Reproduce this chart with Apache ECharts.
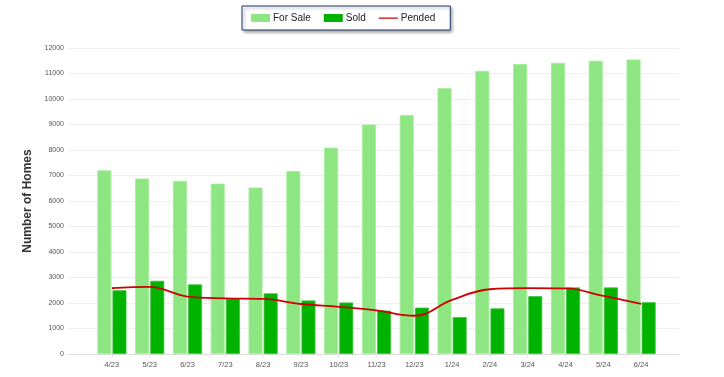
<!DOCTYPE html>
<html>
<head>
<meta charset="utf-8">
<script src="https://cdn.jsdelivr.net/npm/echarts@6/dist/echarts.min.js"></script>
<style>
    html, body { margin: 0; padding: 0; background: #fff; }
    #chart { width: 724px; height: 377px; }
</style>
</head>
<body>
<div id="chart"></div>
<script>
// data bulanan
const months = ['4/23', '5/23', '6/23', '7/23', '8/23', '9/23', '10/23', '11/23', '12/23', '1/24', '2/24', '3/24', '4/24', '5/24', '6/24'];
const forSale = [7200, 6880, 6790, 6680, 6530, 7170, 8090, 9000, 9370, 10430, 11100, 11370, 11420, 11500, 11550];
const sold = [2500, 2870, 2730, 2170, 2380, 2100, 2020, 1700, 1820, 1450, 1790, 2270, 2610, 2610, 2030];
const pended = [2580, 2630, 2250, 2180, 2160, 1960, 1850, 1710, 1500, 2120, 2540, 2580, 2570, 2280, 1970];
const yTicks = { min: 0, max: 12000, step: 1000 };

const chart = echarts.init(document.getElementById('chart'));

// ikon garis tipis untuk legenda Pended
const lineIcon = 'path://M0,0 L0.01,0 M0,3.4 L19,3.4 L19,4.8 L0,4.8 Z M19,8 L18.99,8';

const option = {
    animation: false,
    textStyle: { fontFamily: 'Liberation Sans' },
    legend: {
        left: 242,
        top: 6,
        padding: [7, 15, 7, 9],
        itemGap: 13,
        itemWidth: 19,
        itemHeight: 8,
        backgroundColor: '#fff',
        borderColor: '#1f3566',
        borderWidth: 1,
        shadowColor: 'rgba(0,0,0,0.35)',
        shadowBlur: 3,
        shadowOffsetX: 2,
        shadowOffsetY: 2,
        itemStyle: { borderWidth: 0 },
        textStyle: { fontSize: 10, color: '#222', fontFamily: 'Liberation Sans', padding: [0, 0, 0, -2] },
        data: [
            { name: 'For Sale', icon: 'rect' },
            { name: 'Sold', icon: 'rect' },
            { name: 'Pended', icon: lineIcon, itemStyle: { color: '#d00000', borderWidth: 0 } }
        ]
    },
    // grid 0 buat garis latar, grid 1 buat batang
    grid: [
        { left: 68, right: 45, top: 48, bottom: 23 },
        { left: 93, right: 64, top: 48, bottom: 23 }
    ],
    xAxis: [
        {
            gridIndex: 0, type: 'value', min: 0, max: 1,
            axisLine: { show: true, lineStyle: { color: '#dcdcdc' } },
            axisTick: { show: false }, axisLabel: { show: false }, splitLine: { show: false }
        },
        {
            gridIndex: 1, type: 'category', data: months, boundaryGap: true,
            axisLine: { show: false },
            axisTick: { show: true, alignWithLabel: true, length: 3, lineStyle: { color: '#e4e4e4' } },
            axisLabel: { fontSize: 7.5, color: '#555', margin: 7, interval: 0 }
        }
    ],
    yAxis: [
        {
            gridIndex: 0, type: 'value', min: yTicks.min, max: yTicks.max, interval: yTicks.step,
            name: 'Number of Homes', nameLocation: 'middle', nameGap: 30,
            nameTextStyle: { fontSize: 12, fontWeight: 'bold', color: '#333', fontFamily: 'Liberation Sans' },
            axisLine: { show: false }, axisTick: { show: false },
            axisLabel: { fontSize: 7, color: '#555', margin: 4, formatter: v => String(v) },
            splitLine: { lineStyle: { color: '#efefef' } }
        },
        {
            gridIndex: 1, type: 'value', min: yTicks.min, max: yTicks.max, interval: yTicks.step,
            show: false, splitLine: { show: false }
        }
    ],
    series: [
        {
            name: 'For Sale', type: 'bar', xAxisIndex: 1, yAxisIndex: 1,
            data: forSale, barWidth: 14, barGap: '8%',
            itemStyle: { color: '#8de682', borderColor: '#a6ed9c', borderWidth: 0.8 }
        },
        {
            name: 'Sold', type: 'bar', xAxisIndex: 1, yAxisIndex: 1,
            data: sold, barWidth: 14, barGap: '8%',
            itemStyle: { color: '#00b300', borderColor: '#3fc23f', borderWidth: 0.8 }
        },
        {
            name: 'Pended', type: 'line', xAxisIndex: 1, yAxisIndex: 1,
            data: pended, smooth: 0.4, symbol: 'none',
            lineStyle: { color: '#d00000', width: 1.8 },
            itemStyle: { color: '#d00000' }
        }
    ]
};

chart.setOption(option);
</script>
</body>
</html>
